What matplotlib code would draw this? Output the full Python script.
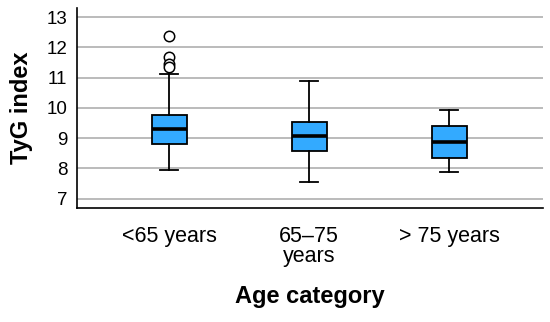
import matplotlib
matplotlib.use("Agg")
import matplotlib.pyplot as plt

# values
categories = ["<65 years", "65\u201375\nyears", "> 75 years"]
whislo = [7.95, 7.54, 7.89]
q1 = [8.80, 8.59, 8.34]
medians = [9.31, 9.08, 8.87]
q3 = [9.78, 9.54, 9.39]
whishi = [11.11, 10.89, 9.92]
fliers = [[12.37, 11.68, 11.45, 11.35], [], []]

plt.rcParams["font.family"] = ["Liberation Sans", "DejaVu Sans"]

stats = [dict(label=c, whislo=lo, q1=a, med=m, q3=b, whishi=hi, fliers=f)
         for c, lo, a, m, b, hi, f in zip(categories, whislo, q1, medians, q3, whishi, fliers)]

fig = plt.figure(figsize=(5.5, 3.22), dpi=100)
ax = fig.add_axes([77 / 550, 1 - 208 / 322, (543 - 77) / 550, 200 / 322])
ax.bxp(stats, positions=[1, 2, 3], widths=0.25, patch_artist=True,
       boxprops=dict(facecolor="#33aaff", edgecolor="black", linewidth=1.3),
       medianprops=dict(color="black", linewidth=2.6),
       whiskerprops=dict(color="black", linewidth=1.3),
       capprops=dict(color="black", linewidth=1.3), capwidths=0.13,
       flierprops=dict(marker="o", markerfacecolor="white", markeredgecolor="black",
                       markersize=7.5, markeredgewidth=1.1))
ax.set_xlim(0.34, 3.67)
ax.set_ylim(6.69, 13.3)
ax.set_yticks(range(7, 14))
ax.yaxis.grid(True, color="#bbbbbb", linewidth=1.4)
ax.set_axisbelow(True)
for s in ["top", "right"]:
    ax.spines[s].set_visible(False)
for s in ["left", "bottom"]:
    ax.spines[s].set_linewidth(1.2)
ax.tick_params(axis="y", length=0, pad=7, labelsize=13.5)
ax.tick_params(axis="x", length=0, pad=13, labelsize=15.5)
for t in ax.get_xticklabels():
    t.set_linespacing(0.95)
ax.set_ylabel("TyG index", fontsize=17, fontweight="bold", labelpad=10)
ax.set_xlabel("Age category", fontsize=17, fontweight="bold", labelpad=13)
fig.savefig("out.png", dpi=100)
